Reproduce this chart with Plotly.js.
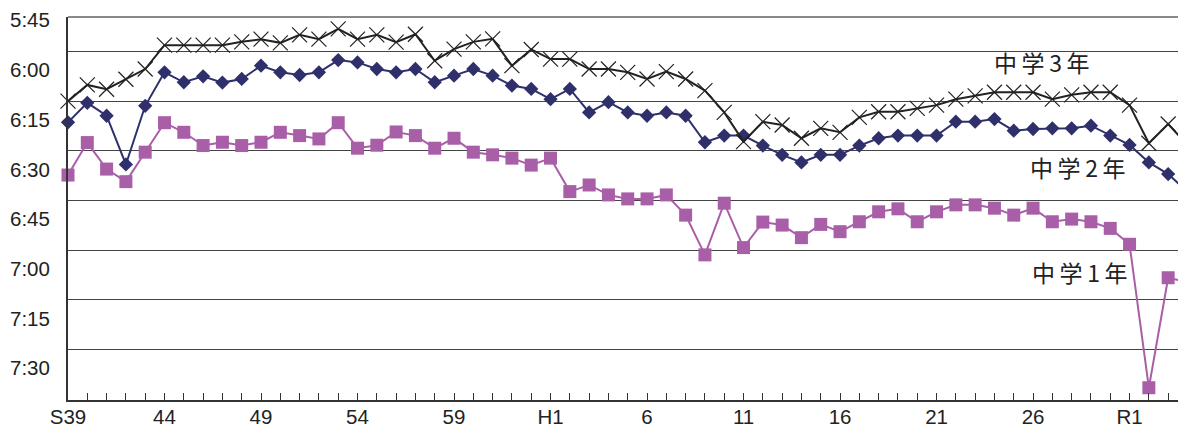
<!DOCTYPE html>
<html><head><meta charset="utf-8">
<script src="https://cdn.plot.ly/plotly-3.0.1.min.js"></script>
<style>html,body{margin:0;padding:0;background:#fff}#chart{width:1178px;height:428px}</style>
</head><body><div id="chart"></div>
<script>
// Years (Showa 39 = 1964 ... Reiwa 4 = 2022)
const years = [1964,1965,1966,1967,1968,1969,1970,1971,1972,1973,1974,1975,1976,1977,1978,1979,1980,1981,1982,1983,1984,1985,1986,1987,1988,1989,1990,1991,1992,1993,1994,1995,1996,1997,1998,1999,2000,2001,2002,2003,2004,2005,2006,2007,2008,2009,2010,2011,2012,2013,2014,2015,2016,2017,2018,2019,2020,2021,2022];

// values in minutes after midnight
const grade3 = [369.4,364.5,365.8,362.8,359.7,352.5,352.5,352.5,352.5,351.5,350.7,351.8,349.4,350.7,347.6,350.7,349.4,351.6,349.2,357.2,353.7,351.5,350.6,358.7,353.8,356.7,356.7,359.7,359.7,360.7,362.7,360.5,362.7,366.2,372.8,381.6,375.6,376.6,380.6,377.6,378.8,374.3,372.6,372.6,371.6,370.6,368.8,367.8,366.7,366.7,366.7,368.8,367.5,366.7,366.7,370.6,382.1,376.3,382.6];
const grade2 = [375.8,369.9,373.8,388.5,370.8,360.7,363.7,361.9,363.8,362.7,358.7,360.7,361.5,360.7,357.0,357.7,359.7,360.7,359.7,363.7,361.7,359.7,361.7,364.7,365.7,368.8,365.7,372.8,369.7,372.8,373.8,372.8,373.8,381.8,379.8,379.8,382.8,385.6,387.9,385.6,385.6,382.8,380.6,379.8,379.8,379.8,375.6,375.6,374.8,378.3,377.8,377.6,377.6,376.8,379.8,382.6,387.9,391.4,396.8];
const grade1 = [391.7,381.9,389.9,393.7,384.8,375.9,378.8,382.8,381.8,382.8,381.8,378.8,379.8,380.8,375.9,383.6,382.7,378.7,379.8,383.6,380.6,384.8,385.6,386.6,388.7,386.6,396.7,394.7,397.7,398.9,398.9,397.7,403.8,415.8,400.2,413.6,405.9,406.8,410.6,406.6,408.8,405.8,402.8,401.9,405.8,402.8,400.7,400.7,401.7,403.8,401.7,405.8,405.0,405.8,407.8,412.6,455.9,422.7,424.0];

const seriesNames = ['中学1年','中学2年','中学3年'];
const xTickYears = [1964,1969,1974,1979,1984,1989,1994,1999,2004,2009,2014,2019];
const xTickText = ['S39','44','49','54','59','H1','6','11','16','21','26','R1'];
const yTickVals = [345,360,375,390,405,420,435,450];
const yTickText = ['5:45','6:00','6:15','6:30','6:45','7:00','7:15','7:30'];
const gridVals = [354.4,369.4,384.4,399.4,414.4,429.4,444.4];

const tickFont = {family:'"Liberation Sans", Arial, sans-serif', size:20.5, color:'#222'};
const labFont = {family:'"Noto Sans CJK JP", sans-serif', size:23, color:'#222'};

const traces = [
  {x:years, y:grade1, name:seriesNames[0], mode:'lines+markers', cliponaxis:false,
   line:{color:'#a95fa8', width:2}, marker:{symbol:'square', size:13, color:'#a95fa8'}},
  {x:years, y:grade2, name:seriesNames[1], mode:'lines+markers', cliponaxis:false,
   line:{color:'#2f306b', width:2}, marker:{symbol:'diamond', size:11, color:'#2f306b'}},
  {x:years, y:grade3, name:seriesNames[2], mode:'lines+markers', cliponaxis:false,
   line:{color:'#222', width:2}, marker:{symbol:'x-thin-open', size:15, line:{color:'#222', width:1.2}}}
];

const layout = {
  width:1178, height:428,
  margin:{l:68, r:0, t:17, b:28, pad:0},
  paper_bgcolor:'#fff', plot_bgcolor:'#fff',
  showlegend:false,
  xaxis:{range:[1964, 2021.51], tickvals:xTickYears, ticktext:xTickText, ticks:'inside', ticklen:7, tickwidth:1, tickcolor:'#333',
    minor:{dtick:1, tick0:1964, ticks:'inside', ticklen:7, tickwidth:1, tickcolor:'#333', showgrid:false},
    showgrid:false, zeroline:false, showline:true, linecolor:'#333', linewidth:2, tickfont:tickFont, ticklabelstandoff:-3, automargin:false},
  yaxis:{range:[459.6, 344.0], tickvals:yTickVals, ticktext:yTickText, ticks:'', showgrid:false, zeroline:false,
    minor:{tickvals:gridVals, showgrid:true, gridcolor:'#444', gridwidth:1, ticks:''},
    showline:true, linecolor:'#333', linewidth:2, tickfont:tickFont, ticklabelstandoff:12, automargin:false},
  shapes:[{type:'line', xref:'paper', yref:'paper', x0:0, x1:1, y0:1, y1:1, line:{color:'#888', width:2}}],
  annotations:[
    {x:2014.47, y:357.6, xref:'x', yref:'y', text:'中\u2009学\u20093\u2009年', showarrow:false, font:labFont},
    {x:2016.33, y:389.3, xref:'x', yref:'y', text:'中\u2009学\u20092\u2009年', showarrow:false, font:labFont},
    {x:2016.44, y:420.95, xref:'x', yref:'y', text:'中\u2009学\u20091\u2009年', showarrow:false, font:labFont}
  ]
};

Plotly.newPlot('chart', traces, layout, {displayModeBar:false, staticPlot:true});
</script></body></html>
